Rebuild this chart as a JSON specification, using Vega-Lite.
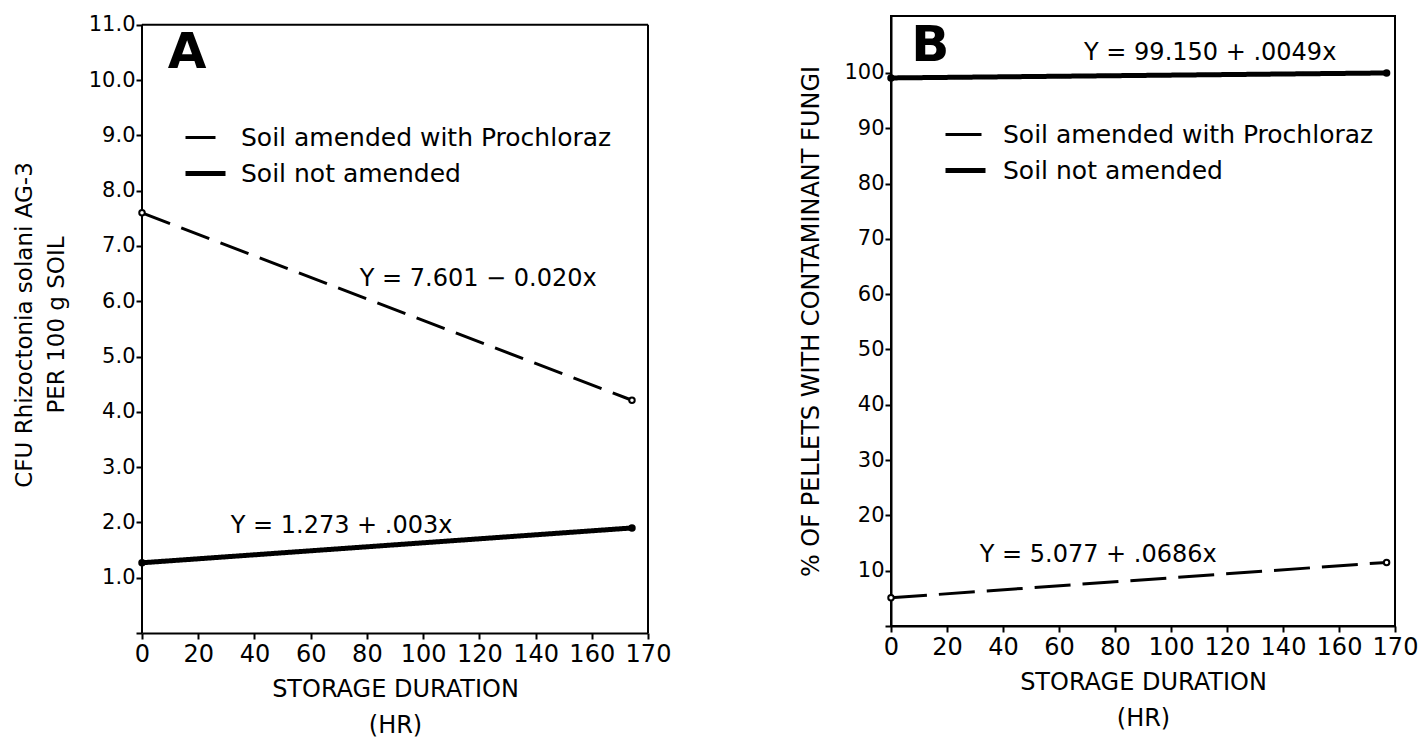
{
  "$schema": "https://vega.github.io/schema/vega-lite/v6.json",
  "background": "white",
  "padding": {"left": 13, "top": 13, "right": 5, "bottom": 5},
  "config": {
    "font": "DejaVu Sans",
    "view": {"stroke": "black", "strokeWidth": 2},
    "axis": {
      "domainColor": "black", "domainWidth": 2, "tickColor": "black", "tickWidth": 2, "tickSize": 6,
      "labelColor": "black", "titleColor": "black", "grid": false, "titleFontWeight": "normal",
      "labelFont": "DejaVu Sans", "titleFont": "DejaVu Sans"
    },
    "legend": {"labelFont": "DejaVu Sans"},
    "concat": {"spacing": 127}
  },
  "datasets": {
    "linesA": [
      {"series": "Soil amended with Prochloraz", "hr": 0, "value": 7.6},
      {"series": "Soil amended with Prochloraz", "hr": 174.3, "value": 4.21},
      {"series": "Soil not amended", "hr": 0, "value": 1.27},
      {"series": "Soil not amended", "hr": 174.3, "value": 1.9}
    ],
    "linesB": [
      {"series": "Soil amended with Prochloraz", "hr": 0, "value": 5.1},
      {"series": "Soil amended with Prochloraz", "hr": 177, "value": 11.5},
      {"series": "Soil not amended", "hr": 0, "value": 99.1},
      {"series": "Soil not amended", "hr": 177, "value": 100.0}
    ],
    "textA": [
      {"kind": "letter", "hr": 16, "value": 10.49, "label": "A"},
      {"kind": "equation", "hr": 119.6, "value": 6.4, "label": "Y = 7.601 −  0.020x"},
      {"kind": "equation", "hr": 71, "value": 1.94, "label": "Y = 1.273 + .003x"}
    ],
    "textB": [
      {"kind": "letter", "hr": 14, "value": 104.9, "label": "B"},
      {"kind": "equation", "hr": 114, "value": 103.6, "label": "Y = 99.150 + .0049x"},
      {"kind": "equation", "hr": 74, "value": 12.85, "label": "Y = 5.077 + .0686x"}
    ]
  },
  "hconcat": [
    {
      "width": 506,
      "height": 617,
      "view": {"stroke": null},
      "layer": [
        {
          "data": {"name": "linesA"},
          "mark": {"type": "line", "color": "black"},
          "encoding": {
            "x": {
              "field": "hr", "type": "quantitative",
              "scale": {"domain": [0, 180], "nice": false, "zero": false},
              "axis": {
                "values": [0, 20, 40, 60, 80, 100, 120, 140, 160, 180],
                "labelExpr": "datum.value == 180 ? '170' : datum.label",
                "labelFontSize": 24, "labelPadding": 3, "labelOverlap": false, "labelFlush": false,
                "title": ["STORAGE DURATION", "(HR)"],
                "titleFontSize": 24, "titleLineHeight": 36, "titlePadding": 11
              }
            },
            "y": {
              "field": "value", "type": "quantitative",
              "scale": {"domain": [0, 11.16], "nice": false},
              "axis": {
                "values": [0, 1, 2, 3, 4, 5, 6, 7, 8, 9, 10, 11],
                "labelExpr": "datum.value == 0 ? '' : format(datum.value, '.1f')",
                "labelFontSize": 21, "labelPadding": 1, "domain": false, "labelFlush": false,
                "title": ["CFU Rhizoctonia solani AG-3", "PER 100 g  SOIL"],
                "titleFontSize": 23, "titleLineHeight": 32, "titlePadding": 20
              }
            },
            "strokeDash": {
              "field": "series", "type": "nominal",
              "scale": {"domain": ["Soil amended with Prochloraz", "Soil not amended"], "range": [[30, 12], [1, 0]]},
              "legend": {
                "orient": "none", "legendX": 41, "legendY": 100, "title": null,
                "symbolType": "stroke", "symbolSize": 1600, "symbolStrokeWidth": 3, "symbolStrokeColor": "black",
                "labelFontSize": 25, "labelColor": "black", "labelOffset": 13, "rowPadding": 0, "labelLimit": 0,
                "labelFont": "DejaVu Sans",
                "encode": {"symbols": {"update": {"strokeDash": [{"test": "datum.value === 'Soil not amended'", "value": [1, 0]}, {"value": [15, 5, 20, 100]}]}}}
              }
            },
            "strokeWidth": {
              "field": "series", "type": "nominal",
              "scale": {"domain": ["Soil amended with Prochloraz", "Soil not amended"], "range": [3, 5]},
              "legend": null
            }
          }
        },
        {
          "data": {"values": [{}]},
          "mark": {"type": "rule", "color": "black", "strokeWidth": 2},
          "encoding": {"x": {"datum": 0}, "y": {"datum": 0}, "y2": {"datum": 11}}
        },
        {
          "data": {"values": [{}]},
          "mark": {"type": "rule", "color": "black", "strokeWidth": 2},
          "encoding": {"x": {"datum": 180}, "y": {"datum": 0}, "y2": {"datum": 11}}
        },
        {
          "data": {"values": [{}]},
          "mark": {"type": "rule", "color": "black", "strokeWidth": 2},
          "encoding": {"x": {"datum": 0}, "x2": {"datum": 180}, "y": {"datum": 11}}
        },
        {
          "data": {"name": "linesA"},
          "mark": {"type": "point", "size": 30, "strokeWidth": 2, "stroke": "black", "opacity": 1},
          "encoding": {
            "x": {"field": "hr", "type": "quantitative"},
            "y": {"field": "value", "type": "quantitative"},
            "fill": {
              "field": "series", "type": "nominal",
              "scale": {"domain": ["Soil amended with Prochloraz", "Soil not amended"], "range": ["white", "black"]},
              "legend": null
            }
          }
        },
        {
          "data": {"name": "textA"},
          "transform": [{"filter": "datum.kind == 'letter'"}],
          "mark": {"type": "text", "fontSize": 50, "fontWeight": "bold", "color": "black", "align": "center", "baseline": "middle"},
          "encoding": {
            "x": {"field": "hr", "type": "quantitative"},
            "y": {"field": "value", "type": "quantitative"},
            "text": {"field": "label"}
          }
        },
        {
          "data": {"name": "textA"},
          "transform": [{"filter": "datum.kind == 'equation'"}],
          "mark": {"type": "text", "fontSize": 24, "color": "black", "align": "center", "baseline": "middle"},
          "encoding": {
            "x": {"field": "hr", "type": "quantitative"},
            "y": {"field": "value", "type": "quantitative"},
            "text": {"field": "label"}
          }
        }
      ]
    },
    {
      "width": 504,
      "height": 610,
      "layer": [
        {
          "data": {"name": "linesB"},
          "mark": {"type": "line", "color": "black"},
          "encoding": {
            "x": {
              "field": "hr", "type": "quantitative",
              "scale": {"domain": [0, 180], "nice": false, "zero": false},
              "axis": {
                "values": [0, 20, 40, 60, 80, 100, 120, 140, 160, 180],
                "labelExpr": "datum.value == 180 ? '170' : datum.label",
                "labelFontSize": 24, "labelPadding": 3, "labelOverlap": false, "labelFlush": false,
                "title": ["STORAGE DURATION", "(HR)"],
                "titleFontSize": 24, "titleLineHeight": 36, "titlePadding": 11
              }
            },
            "y": {
              "field": "value", "type": "quantitative",
              "scale": {"domain": [0, 110.3], "nice": false},
              "axis": {
                "values": [0, 10, 20, 30, 40, 50, 60, 70, 80, 90, 100],
                "labelExpr": "datum.value == 0 ? '' : datum.label",
                "labelFontSize": 21, "labelPadding": 1, "labelFlush": false,
                "title": "% OF PELLETS WITH CONTAMINANT FUNGI",
                "titleFontSize": 24, "titlePadding": 20
              }
            },
            "strokeDash": {
              "field": "series", "type": "nominal",
              "scale": {"domain": ["Soil amended with Prochloraz", "Soil not amended"], "range": [[36, 12], [1, 0]]},
              "legend": {
                "orient": "none", "legendX": 52, "legendY": 97, "title": null,
                "symbolType": "stroke", "symbolSize": 1600, "symbolStrokeWidth": 3, "symbolStrokeColor": "black",
                "labelFontSize": 25, "labelColor": "black", "labelOffset": 15, "rowPadding": 0, "labelLimit": 0,
                "labelFont": "DejaVu Sans",
                "encode": {"symbols": {"update": {"strokeDash": [{"test": "datum.value === 'Soil not amended'", "value": [1, 0]}, {"value": [15, 5, 20, 100]}]}}}
              }
            },
            "strokeWidth": {
              "field": "series", "type": "nominal",
              "scale": {"domain": ["Soil amended with Prochloraz", "Soil not amended"], "range": [3, 5]},
              "legend": null
            }
          }
        },
        {
          "data": {"name": "linesB"},
          "mark": {"type": "point", "size": 30, "strokeWidth": 2, "stroke": "black", "opacity": 1},
          "encoding": {
            "x": {"field": "hr", "type": "quantitative"},
            "y": {"field": "value", "type": "quantitative"},
            "fill": {
              "field": "series", "type": "nominal",
              "scale": {"domain": ["Soil amended with Prochloraz", "Soil not amended"], "range": ["white", "black"]},
              "legend": null
            }
          }
        },
        {
          "data": {"name": "textB"},
          "transform": [{"filter": "datum.kind == 'letter'"}],
          "mark": {"type": "text", "fontSize": 50, "fontWeight": "bold", "color": "black", "align": "center", "baseline": "middle"},
          "encoding": {
            "x": {"field": "hr", "type": "quantitative"},
            "y": {"field": "value", "type": "quantitative"},
            "text": {"field": "label"}
          }
        },
        {
          "data": {"name": "textB"},
          "transform": [{"filter": "datum.kind == 'equation'"}],
          "mark": {"type": "text", "fontSize": 24, "color": "black", "align": "center", "baseline": "middle"},
          "encoding": {
            "x": {"field": "hr", "type": "quantitative"},
            "y": {"field": "value", "type": "quantitative"},
            "text": {"field": "label"}
          }
        }
      ]
    }
  ],
  "resolve": {
    "scale": {"x": "independent", "y": "independent", "strokeDash": "independent", "strokeWidth": "independent", "fill": "independent"},
    "legend": {"strokeDash": "independent"}
  }
}
